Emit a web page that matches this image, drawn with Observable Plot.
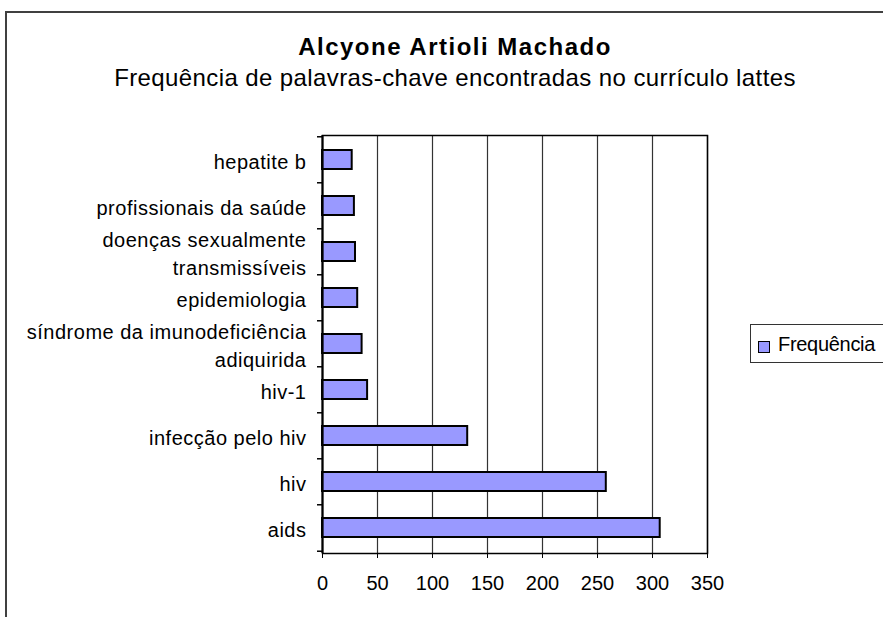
<!DOCTYPE html>
<html>
<head>
<meta charset="utf-8">
<script src="https://cdn.jsdelivr.net/npm/d3@7"></script>
<script src="https://cdn.jsdelivr.net/npm/@observablehq/plot@0.6"></script>
<style>
  body { margin: 0; background: #fff; font-family: "Liberation Sans", Arial, sans-serif; }
  #wrap { position: relative; width: 883px; height: 617px; overflow: hidden; background: #fff; }
  #wrap svg { position: absolute; left: 0; top: 0; }
  #border { position: absolute; left: 5px; top: 11px; width: 1000px; height: 1000px;
            border-top: 2px solid #404040; border-left: 2px solid #404040; }
  .title { position: absolute; left: 0; width: 910px; text-align: center; font-size: 24px;
           line-height: 24px; color: #000; white-space: nowrap; }
  #t1 { top: 35px; font-weight: bold; letter-spacing: 1.5px; }
  #t2 { top: 66px; letter-spacing: 0.4px; }
  #legend { position: absolute; left: 750px; top: 324px; width: 200px; height: 39px;
            box-sizing: border-box; border: 1.5px solid #333; background: #fff; }
  #swatch { position: absolute; left: 7px; top: 16px; width: 12px; height: 12px; box-sizing: border-box;
            background: #9999ff; border: 1.5px solid #000; }
  #legtext { position: absolute; left: 27px; top: 9px; font-size: 20px; line-height: 20px; color: #000;
             letter-spacing: -0.3px; }
  g[aria-label="text"] text { letter-spacing: 0.5px; }
</style>
</head>
<body>
<div id="wrap">
  <div id="border"></div>
  <div class="title" id="t1"></div>
  <div class="title" id="t2"></div>
  <div id="legend"><div id="swatch"></div><div id="legtext"></div></div>
</div>
<script>
const title = "Alcyone Artioli Machado";
const subtitle = "Frequência de palavras-chave encontradas no currículo lattes";
const seriesName = "Frequência";
const categories = [
  "hepatite b",
  "profissionais da saúde",
  "doenças sexualmente\ntransmissíveis",
  "epidemiologia",
  "síndrome da imunodeficiência\nadiquirida",
  "hiv-1",
  "infecção pelo hiv",
  "hiv",
  "aids"
];
const values = [27, 29, 30, 32, 36, 41, 132, 258, 307];
const xTicks = [0, 50, 100, 150, 200, 250, 300, 350];

document.getElementById("t1").textContent = title;
document.getElementById("t2").textContent = subtitle;
document.getElementById("legtext").textContent = seriesName;

const data = categories.map((c, i) => ({category: c, value: values[i]}));

const W = 883, H = 617, mt = 135, mb = 64, ml = 322, mr = 176;
const pInner = 0.58, pOuter = 0.29;
const step = (H - mt - mb) / (categories.length - pInner + 2 * pOuter);

const chart = Plot.plot({
  width: W,
  height: H,
  marginTop: mt,
  marginBottom: mb,
  marginLeft: ml,
  marginRight: mr,
  style: {fontFamily: "'Liberation Sans', Arial, sans-serif", fontSize: "20px", background: "transparent", color: "#000"},
  x: {domain: [0, 350], ticks: xTicks},
  y: {domain: categories, paddingInner: pInner, paddingOuter: pOuter, axis: null},
  marks: [
    Plot.gridX(xTicks, {stroke: "#333", strokeOpacity: 1, strokeWidth: 1.2}),
    Plot.barX(data, {x: "value", y: "category", fill: "#9999ff", stroke: "#000", strokeWidth: 2}),
    Plot.frame({stroke: "#000", strokeWidth: 1.5}),
    Plot.ruleX([0], {stroke: "#000", strokeWidth: 2}),
    Plot.ruleY(categories, {y: d => d, x1: 0, x2: 0, insetLeft: -5, dy: -step / 2, stroke: "#000", strokeWidth: 1.5}),
    Plot.ruleY(categories.slice(-1), {y: d => d, x1: 0, x2: 0, insetLeft: -5, dy: step / 2, stroke: "#000", strokeWidth: 1.5}),
    Plot.text(data, {y: "category", text: "category", frameAnchor: "left", dx: -16, textAnchor: "end",
                     lineHeight: 1.4, fontSize: 20, fill: "#000"}),
    Plot.axisX({ticks: xTicks, tickSize: 5, tickPadding: 17, fontSize: 20, stroke: "#000", label: null})
  ]
});
document.getElementById("wrap").appendChild(chart);
</script>
</body>
</html>
